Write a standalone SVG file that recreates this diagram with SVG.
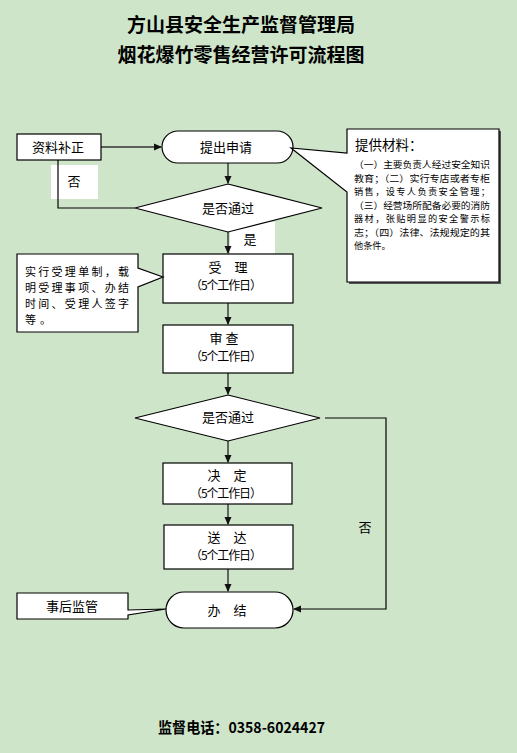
<svg xmlns="http://www.w3.org/2000/svg" width="517" height="753" viewBox="0 0 517 753">
<style>
text{font-family:"Noto Sans CJK SC","Liberation Sans",sans-serif;fill:#000}
.t{font-size:19px;font-weight:bold;text-anchor:middle}
.n{font-size:13px;text-anchor:middle}
.d{font-size:12px;text-anchor:middle}
.s{font-size:9.2px}
.c{font-size:11px}
.box{fill:#fff;stroke:#000;stroke-width:1.2}
.ln{fill:none;stroke:#000;stroke-width:1.2}
.fl{fill:none;stroke:#333;stroke-width:1.4}
</style>
<defs>
<marker id="ah" markerWidth="8" markerHeight="8" refX="7" refY="4" orient="auto" markerUnits="userSpaceOnUse">
<path d="M0,0.5 L8,4 L0,7.5 z" fill="#111"/>
</marker>
</defs>
<rect width="517" height="753" fill="#cee5ca"/>
<g id="title">
<text class="t" x="241" y="32">方山县安全生产监督管理局</text>
<text class="t" x="241" y="62">烟花爆竹零售经营许可流程图</text>
</g>
<g id="labels-bg">
<rect x="51" y="165" width="47" height="34" fill="#fff"/>
<rect x="230" y="222" width="45" height="32" fill="#fff"/>
</g>
<g id="connectors">
<line class="fl" x1="101" y1="147" x2="161" y2="147" marker-end="url(#ah)"/>
<line class="fl" x1="228" y1="163" x2="228" y2="183" marker-end="url(#ah)"/>
<polyline class="ln" points="58,160 58,208 135,208"/>
<line class="fl" x1="228" y1="232" x2="228" y2="253" marker-end="url(#ah)"/>
<line class="fl" x1="228" y1="303" x2="228" y2="324" marker-end="url(#ah)"/>
<line class="fl" x1="228" y1="373" x2="228" y2="394" marker-end="url(#ah)"/>
<line class="fl" x1="228" y1="441" x2="228" y2="462" marker-end="url(#ah)"/>
<line class="fl" x1="228" y1="504" x2="228" y2="524" marker-end="url(#ah)"/>
<line class="fl" x1="228" y1="569" x2="228" y2="591" marker-end="url(#ah)"/>
<polyline class="ln" points="325,418 386,418 386,609 294,609" marker-end="url(#ah)"/>
<text class="n" x="250" y="244">是</text>
<text class="n" x="74" y="186">否</text>
<text class="n" x="365" y="532">否</text>
</g>
<g id="n-buzheng">
<rect class="box" x="17" y="134" width="84" height="26"/>
<text class="n" x="58" y="152">资料补正</text>
</g>
<g id="n-shenqing">
<rect class="box" x="162" y="131" width="131" height="32" rx="16"/>
<text class="n" x="226" y="152">提出申请</text>
</g>
<g id="n-cailiao">
<rect x="349" y="131" width="152" height="153" fill="#555"/>
<path class="box" d="M347,129 H499 V282 H347 V192 L291,148 L347,153 Z"/>
<text x="355" y="150" style="font-size:13.5px">提供材料：</text>
<text class="s" x="354" y="168" textLength="136" lengthAdjust="spacingAndGlyphs">（一）主要负责人经过安全知识</text>
<text class="s" x="354" y="181.5" textLength="136" lengthAdjust="spacingAndGlyphs">教育；（二）实行专店或者专柜</text>
<text class="s" x="354" y="195" textLength="136" lengthAdjust="spacing">销售，设专人负责安全管理；</text>
<text class="s" x="354" y="208.5" textLength="136" lengthAdjust="spacingAndGlyphs">（三）经营场所配备必要的消防</text>
<text class="s" x="354" y="222" textLength="136" lengthAdjust="spacing">器材，张贴明显的安全警示标</text>
<text class="s" x="354" y="235.5" textLength="136" lengthAdjust="spacingAndGlyphs">志；（四）法律、法规规定的其</text>
<text class="s" x="354" y="249">他条件。</text>
</g>
<g id="n-d1">
<polygon class="box" points="228,184 322,208 228,232 135,208"/>
<text class="n" x="228" y="213">是否通过</text>
</g>
<g id="n-shouli">
<rect class="box" x="163" y="254" width="130" height="49"/>
<text class="n" x="228" y="272">受　理</text>
<text class="d" x="226" y="290" textLength="72" lengthAdjust="spacing">（5个工作日）</text>
</g>
<g id="n-zhidu">
<path class="box" d="M17,254 H138 V268 L163,277 L138,287 V332 H17 Z"/>
<text class="c" x="25" y="276" textLength="104" lengthAdjust="spacing">实行受理单制，载</text>
<text class="c" x="25" y="292" textLength="104" lengthAdjust="spacing">明受理事项、办结</text>
<text class="c" x="25" y="308" textLength="104" lengthAdjust="spacing">时间、受理人签字</text>
<text class="c" x="25" y="324" textLength="26" lengthAdjust="spacing">等。</text>
</g>
<g id="n-shencha">
<rect class="box" x="163" y="325" width="130" height="48"/>
<text class="n" x="224" y="343">审 查</text>
<text class="d" x="226" y="361" textLength="72" lengthAdjust="spacing">（5个工作日）</text>
</g>
<g id="n-d2">
<polygon class="box" points="228,395 320,418 228,441 135,418"/>
<text class="n" x="228" y="422">是否通过</text>
</g>
<g id="n-jueding">
<rect class="box" x="163" y="463" width="129" height="41"/>
<text class="n" x="227" y="480">决　定</text>
<text class="d" x="226" y="498" textLength="72" lengthAdjust="spacing">（5个工作日）</text>
</g>
<g id="n-songda">
<rect class="box" x="164" y="525" width="129" height="44"/>
<text class="n" x="227" y="542">送　达</text>
<text class="d" x="226" y="560" textLength="72" lengthAdjust="spacing">（5个工作日）</text>
</g>
<g id="n-banjie">
<rect class="box" x="166" y="592" width="127" height="36" rx="18"/>
<text class="n" x="227" y="615">办　结</text>
</g>
<g id="n-jianguan">
<path class="box" d="M17,593 H128 V610 L166,609 L128,615 V619 H17 Z"/>
<text class="n" x="72" y="611">事后监管</text>
</g>
<g id="footer">
<text x="158" y="733" style="font-size:15px;font-weight:bold" textLength="167" lengthAdjust="spacingAndGlyphs">监督电话：0358-6024427</text>
</g>
</svg>
